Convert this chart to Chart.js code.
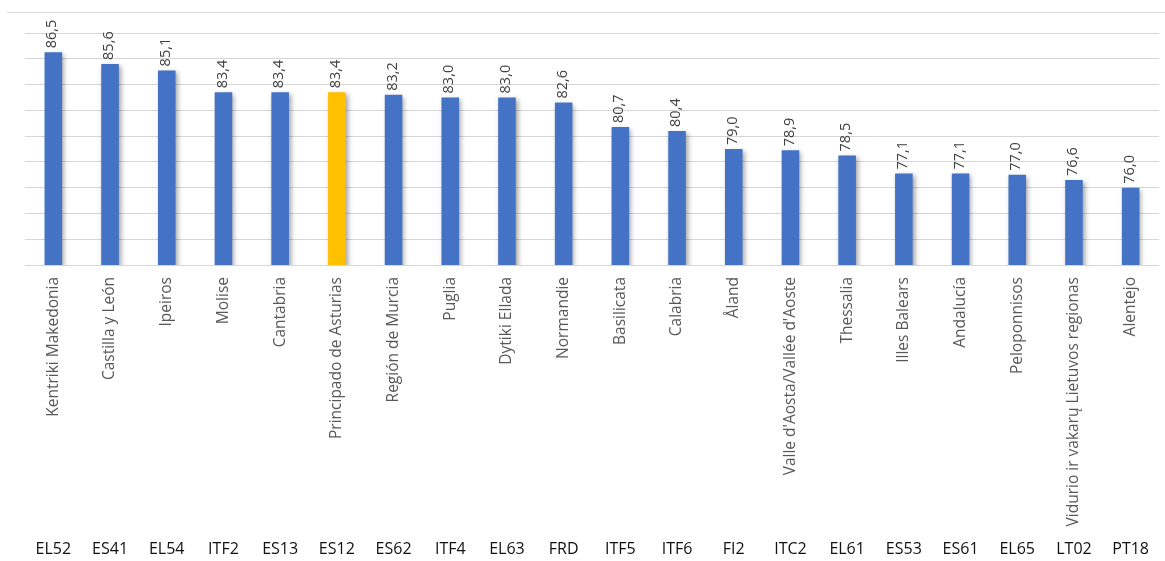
<!DOCTYPE html>
<html>
<head>
<meta charset="utf-8">
<script src="https://cdn.jsdelivr.net/npm/chart.js@4.4.1/dist/chart.umd.min.js"></script>
<style>
  html, body { margin: 0; padding: 0; background: #ffffff; }
  #wrap { position: relative; width: 1165px; height: 561px; }
  #frame { position: absolute; left: 7px; right: 0; top: 12px; height: 1px; background: #dcdcdc; }
  canvas { position: absolute; left: 0; top: 0; }
</style>
</head>
<body>
<div id="wrap">
  <div id="frame"></div>
  <canvas id="c" width="1165" height="561"></canvas>
</div>
<script>
const codes = ["EL52","ES41","EL54","ITF2","ES13","ES12","ES62","ITF4","EL63","FRD","ITF5","ITF6","FI2","ITC2","EL61","ES53","ES61","EL65","LT02","PT18"];
const regionNames = ["Kentriki Makedonia","Castilla y León","Ipeiros","Molise","Cantabria","Principado de Asturias","Región de Murcia","Puglia","Dytiki Ellada","Normandie","Basilicata","Calabria","Åland","Valle d'Aosta/Vallée d'Aoste","Thessalia","Illes Balears","Andalucía","Peloponnisos","Vidurio ir vakarų Lietuvos regionas","Alentejo"];
const values = [86.5,85.6,85.1,83.4,83.4,83.4,83.2,83.0,83.0,82.6,80.7,80.4,79.0,78.9,78.5,77.1,77.1,77.0,76.6,76.0];
const highlightCode = "ES12";
const yMin = 70, yMax = 88, yStep = 2;

const BLUE = "#4472C4", GOLD = "#FFC000";
const barColors = codes.map(c => c === highlightCode ? GOLD : BLUE);

const shadowPlugin = {
  id: 'barShadow',
  beforeDatasetDraw(chart) {
    const ctx = chart.ctx;
    ctx.save();
    ctx.shadowColor = 'rgba(0,0,0,0.38)';
    ctx.shadowBlur = 5;
    ctx.shadowOffsetX = 2;
    ctx.shadowOffsetY = 2;
  },
  afterDatasetDraw(chart) {
    chart.ctx.restore();
  }
};

const valueLabels = {
  id: 'valueLabels',
  afterDatasetsDraw(chart) {
    const ctx = chart.ctx;
    const meta = chart.getDatasetMeta(0);
    ctx.save();
    ctx.font = '14.5px "Open Sans", sans-serif';
    ctx.fillStyle = '#404040';
    ctx.textAlign = 'left';
    ctx.textBaseline = 'middle';
    meta.data.forEach((bar, i) => {
      const txt = values[i].toFixed(1).replace('.', ',');
      ctx.save();
      ctx.translate(bar.x - 1, bar.y - 4);
      ctx.rotate(-Math.PI / 2);
      ctx.fillText(txt, 0, 0);
      ctx.restore();
    });
    ctx.restore();
  }
};

new Chart(document.getElementById('c'), {
  type: 'bar',
  data: {
    labels: regionNames,
    datasets: [{
      data: values,
      backgroundColor: barColors,
      borderWidth: 0,
      barPercentage: 0.62,
      categoryPercentage: 0.5
    }]
  },
  options: {
    responsive: false,
    animation: false,
    devicePixelRatio: 1,
    layout: { padding: { left: 25, right: 6, top: 33, bottom: 1 } },
    plugins: { legend: { display: false }, tooltip: { enabled: false } },
    scales: {
      x: {
        type: 'category',
        position: 'bottom',
        weight: 0,
        grid: { display: false, drawTicks: false },
        border: { display: false },
        ticks: {
          autoSkip: false,
          maxRotation: 90,
          minRotation: 90,
          padding: 12,
          color: '#595959',
          font: { family: '"Open Sans", sans-serif', size: 15.5 }
        },
        afterFit(scale) { scale.height = 262; }
      },
      x2: {
        type: 'category',
        position: 'bottom',
        weight: 1,
        labels: codes,
        grid: { display: false, drawTicks: false },
        border: { display: false },
        ticks: {
          autoSkip: false,
          maxRotation: 0,
          minRotation: 0,
          padding: 13,
          color: '#111111',
          font: { family: '"Open Sans", sans-serif', size: 16 }
        },
        afterFit(scale) { scale.height = 33; }
      },
      y: {
        min: yMin,
        max: yMax,
        grid: { color: '#d6d6d6', lineWidth: 1, drawTicks: false },
        border: { display: false },
        ticks: { display: false, stepSize: yStep },
        afterFit(scale) { scale.width = 0; }
      }
    }
  },
  plugins: [shadowPlugin, valueLabels]
});
</script>
</body>
</html>
